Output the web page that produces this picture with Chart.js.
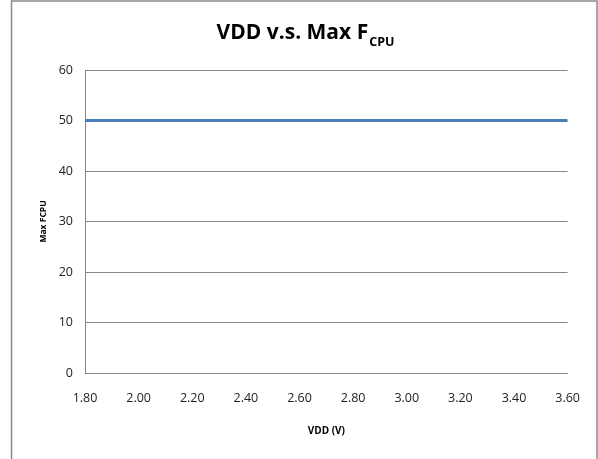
<!DOCTYPE html>
<html>
<head>
<meta charset="utf-8">
<script src="https://cdn.jsdelivr.net/npm/chart.js@4"></script>
<style>
html,body{margin:0;padding:0;background:#fff;}
#wrap{width:598px;height:459px;position:relative;}
</style>
</head>
<body>
<div id="wrap"><canvas id="c" width="598" height="459"></canvas></div>
<script>
const vdd = [1.8, 3.6];
const maxFcpu = [50, 50];
const titleMain = "VDD v.s. Max F";
const titleSub = "CPU";
const xTitle = "VDD (V)";
const yTitle = "Max FCPU";

const FONT = "'Open Sans', sans-serif";
const GRID = '#878787';

const framePlugin = {
  id: 'frame',
  beforeDraw(chart) {
    const ctx = chart.ctx;
    ctx.save();
    ctx.fillStyle = '#fff';
    ctx.fillRect(0, 0, chart.width, chart.height);
    ctx.strokeStyle = '#8a8a8a';
    ctx.lineWidth = 1.5;
    ctx.beginPath();
    ctx.moveTo(11.5, chart.height);
    ctx.lineTo(11.5, 1);
    ctx.lineTo(597, 1);
    ctx.lineTo(597, chart.height);
    ctx.stroke();
    ctx.restore();
  },
  afterDraw(chart) {
    const ctx = chart.ctx;
    ctx.save();
    ctx.fillStyle = '#000';
    ctx.textBaseline = 'alphabetic';
    const mainFont = "bold 21px " + FONT;
    const subFont = "bold 12.5px " + FONT;
    ctx.font = mainFont;
    const w1 = ctx.measureText(titleMain).width;
    ctx.font = subFont;
    const w2 = ctx.measureText(titleSub).width;
    const cx = 305;
    const x0 = cx - (w1 + w2) / 2;
    ctx.font = mainFont;
    ctx.textAlign = 'left';
    ctx.fillText(titleMain, x0, 39);
    ctx.font = subFont;
    ctx.fillText(titleSub, x0 + w1 + 1, 46);
    ctx.restore();
  }
};

new Chart(document.getElementById('c'), {
  type: 'line',
  data: {
    datasets: [{
      data: vdd.map((x, i) => ({x: x, y: maxFcpu[i]})),
      borderColor: '#4a7ebb',
      borderWidth: 3,
      pointRadius: 0,
      fill: false,
      tension: 0
    }]
  },
  options: {
    responsive: false,
    animation: false,
    devicePixelRatio: 1,
    layout: { padding: { top: 70, right: 25, left: 0, bottom: 0 } },
    plugins: { legend: { display: false }, title: { display: false }, tooltip: { enabled: false } },
    scales: {
      x: {
        type: 'linear',
        min: 1.8,
        max: 3.6,
        afterFit(s) { s.height = 86; },
        afterBuildTicks(s) {
          const t = [];
          for (let i = 0; i <= 9; i++) t.push({ value: +(1.8 + i * 0.2).toFixed(2) });
          s.ticks = t;
        },
        grid: { display: false, drawTicks: false },
        border: { display: true, color: GRID, width: 1 },
        ticks: {
          color: '#222',
          font: { family: FONT, size: 12.5 },
          padding: 18,
          maxRotation: 0,
          autoSkip: false,
          callback: v => Number(v).toFixed(2)
        },
        title: {
          display: true,
          text: xTitle,
          color: '#000',
          font: { family: FONT, size: 10, weight: 'bold' },
          padding: { top: 0, bottom: 22 }
        }
      },
      y: {
        min: 0,
        max: 60,
        afterFit(s) { s.width = 85; },
        grid: { color: GRID, lineWidth: 1, drawTicks: false },
        border: { display: true, color: GRID, width: 1 },
        ticks: {
          stepSize: 10,
          color: '#222',
          font: { family: FONT, size: 12.5 },
          padding: 12
        },
        title: {
          display: true,
          text: yTitle,
          color: '#000',
          font: { family: FONT, size: 8.5, weight: 'bold' },
          padding: { top: 38, bottom: 0 }
        }
      }
    }
  },
  plugins: [framePlugin]
});
</script>
</body>
</html>
